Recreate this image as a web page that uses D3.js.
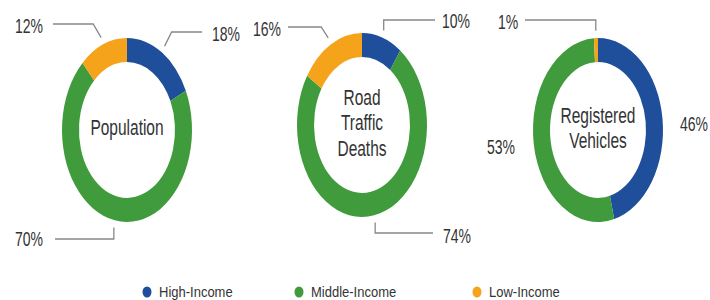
<!DOCTYPE html>
<html>
<head>
<meta charset="utf-8">
<script src="https://cdn.jsdelivr.net/npm/d3@7"></script>
<style>
  body { margin: 0; background: #fff; }
  text { font-family: "Liberation Sans", Arial, sans-serif; fill: #333; }
</style>
</head>
<body>
<div id="chart"></div>
<script>
// data
const groups = ["High-Income", "Middle-Income", "Low-Income"];
const charts = ["Population", "Road Traffic Deaths", "Registered Vehicles"];
const population = [18, 70, 12];
const deaths = [10, 74, 16];
const vehicles = [46, 53, 1];
const centerLines = [["Population"], ["Road", "Traffic", "Deaths"], ["Registered", "Vehicles"]];

const colors = ["#1f4f9b", "#3f9b3b", "#f4a31b"];

const width = 710, height = 300;
const svg = d3.select("#chart").append("svg").attr("width", width).attr("height", height);

const rOuter = 65, rInner = 48, stretch = 1.415;
const centers = [[127, 130], [362, 125], [598, 130]];

// label layout per chart, per slice: [lineY, elbowDx, endX, textX, textY] (null = no leader line)
const labelLayout = [
  [[32, 7, 202, 212, 35], [239, 0, 55, 15, 240], [24, -8, 53, 15, 27]],
  [[20, 0, 435, 442, 22], [233, 0, 433, 443, 237], [27, -7, 288, 253, 30]],
  [[null, null, null, 680, 125], [null, null, null, 487, 148], [20, 0, 525, 498, 23]]
];

const pie = d3.pie().sort(null).value(d => d);
const arc = d3.arc().innerRadius(rInner).outerRadius(rOuter);

const textScale = 1.38;
function addText(g, x, y, str, size, anchor) {
  g.append("text")
    .attr("transform", `translate(${x},${y}) scale(1,${textScale})`)
    .attr("text-anchor", anchor)
    .attr("dominant-baseline", "central")
    .attr("font-size", size)
    .text(str);
}

[population, deaths, vehicles].forEach((vals, i) => {
  const [cx, cy] = centers[i];
  const arcs = pie(vals);
  const g = svg.append("g").attr("transform", `translate(${cx},${cy}) scale(1,${stretch})`);
  g.selectAll("path")
    .data(arcs)
    .enter().append("path")
    .attr("d", arc)
    .attr("fill", (d, j) => colors[j]);

  // center label
  const lines = centerLines[i];
  const lh = 25.5;
  lines.forEach((l, k) => {
    addText(svg, cx, cy + (k - (lines.length - 1) / 2) * lh - 2, l, 15.5, "middle");
  });

  // percentage labels and leader lines
  arcs.forEach((a, j) => {
    const lay = labelLayout[i][j];
    const mid = (a.startAngle + a.endAngle) / 2;
    if (lay[0] !== null) {
      const sx = cx + Math.sin(mid) * rOuter * 1.08;
      const sy = cy - Math.cos(mid) * rOuter * 1.08 * stretch;
      const ex = sx + lay[1];
      svg.append("path")
        .attr("d", `M${sx},${sy}L${ex},${lay[0]}L${lay[2]},${lay[0]}`)
        .attr("fill", "none")
        .attr("stroke", "#888")
        .attr("stroke-width", 1.3);
    }
    addText(svg, lay[3], lay[4], vals[j] + "%", 14, "start");
  });
});

// legend
const legendX = d3.scalePoint().domain(groups).range([147, 477]);
const legendDx = [0, 3, 0];
const legend = svg.append("g");
groups.forEach((gname, j) => {
  const x = legendX(gname) - (j == 1 ? 13 : 0);
  legend.append("ellipse")
    .attr("cx", x)
    .attr("cy", 292)
    .attr("rx", 4.5)
    .attr("ry", 5.5)
    .attr("fill", colors[j]);
  legend.append("text")
    .attr("transform", `translate(${x + 12},292) scale(1,1.15)`)
    .attr("dominant-baseline", "central")
    .attr("font-size", 13)
    .text(gname);
});
</script>
</body>
</html>
